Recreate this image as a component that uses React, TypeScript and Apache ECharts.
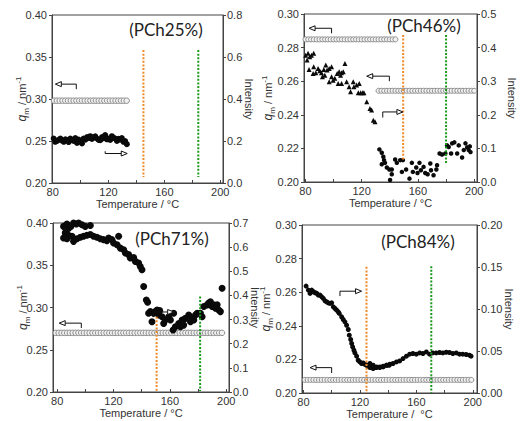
import React, { useEffect, useRef } from "react";
import * as echarts from "echarts";

// ---------- shared tick values ----------
const xTickValues = [80, 100, 120, 140, 160, 180, 200];
const xLabelValues = [80, 120, 160, 200];
const panelTitles = ["(PCh25%)", "(PCh46%)", "(PCh71%)", "(PCh84%)"];
const xTitles = ["Temperature / °C", "Temperature / °C", "Temperature / °C", "Temperature /  °C"];

// ---------- panel 1 (PCh25%) ----------
const p1RingT = [81, 83, 85, 87, 89, 91, 93, 95, 97, 99, 101, 103, 105, 107, 109, 111, 113, 115, 117, 119, 121, 123, 125, 127, 129, 131, 133];
const p1RingQ = 0.298;
const p1Intensity = [
  [80.7, 0.212], [81.8, 0.196], [83.1, 0.2], [84.3, 0.206], [85.5, 0.212], [86.7, 0.202], [87.9, 0.196], [89.1, 0.208],
  [90.3, 0.204], [91.4, 0.195], [92.6, 0.212], [93.8, 0.205], [95.0, 0.2], [96.2, 0.214], [97.4, 0.191], [98.6, 0.207],
  [99.8, 0.198], [101.0, 0.188], [102.1, 0.212], [103.4, 0.206], [104.6, 0.219], [105.8, 0.214], [106.9, 0.223], [108.1, 0.21],
  [109.3, 0.217], [110.5, 0.222], [111.7, 0.212], [112.9, 0.205], [114.1, 0.204], [115.3, 0.219], [116.5, 0.213], [117.6, 0.228],
  [118.8, 0.208], [120.0, 0.212], [121.2, 0.205], [122.4, 0.223], [123.6, 0.215], [124.8, 0.212], [126.0, 0.2], [127.2, 0.21],
  [128.4, 0.207], [129.5, 0.214], [130.7, 0.196], [131.9, 0.2], [133.1, 0.185],
];
const p1VLines = [[145, 0.3583, 0.2072], [184.3, 0.3583, 0.2072]];
const p1Arrows = [[96.9, 81.9, 0.3177, 0.3117], [117.6, 133.4, 0.2351, 0.2378]];

// ---------- panel 2 (PCh46%) ----------
const p2RingAT = [80, 82, 84, 86, 88, 90, 92, 94, 96, 98, 100, 102, 104, 106, 108, 110, 112, 114, 116, 118, 120, 122, 124, 126, 128, 130, 132, 134, 136, 138, 140, 142, 144];
const p2RingAQ = 0.2849;
const p2RingBT = [132, 134, 136, 138, 140, 142, 144, 146, 148, 150, 152, 154, 156, 158, 160, 162, 164, 166, 168, 170, 172, 174, 176, 178, 180, 182, 184, 186, 188, 190, 192, 194, 196, 198, 200];
const p2RingBQ = 0.2543;
const p2Triangles = [
  [80.2, 0.2755], [81.9, 0.2766], [84.3, 0.2755], [85.9, 0.2766], [83.1, 0.2745], [81.2, 0.2726], [82.6, 0.267], [85.9, 0.2686],
  [85.5, 0.2646], [87.4, 0.265], [89.0, 0.2676], [90.2, 0.2662], [91.4, 0.265], [93.1, 0.267], [94.5, 0.2696], [95.4, 0.2666],
  [96.9, 0.2676], [98.6, 0.2686], [92.1, 0.2626], [93.8, 0.2636], [96.9, 0.2596], [98.6, 0.2626], [99.7, 0.2606], [100.9, 0.2617],
  [102.6, 0.2646], [104.0, 0.2656], [105.0, 0.2636], [105.7, 0.265], [106.9, 0.2656], [108.1, 0.2706], [103.3, 0.2587], [105.7, 0.2587],
  [109.3, 0.2596], [111.1, 0.2567], [112.1, 0.2537], [114.0, 0.2596], [114.5, 0.2567], [116.4, 0.2577], [118.3, 0.2587], [117.6, 0.2531],
  [119.3, 0.2531], [120.7, 0.2531], [121.6, 0.2531], [123.6, 0.2477], [125.9, 0.2438], [127.1, 0.2428], [128.3, 0.2368], [129.5, 0.2358],
];
const p2Intensity = [
  [132.6, 0.097], [134.3, 0.087], [135.4, 0.075], [135.9, 0.065], [134.3, 0.053], [136.6, 0.057], [137.9, 0.043], [139.7, 0.037],
  [141.4, 0.037], [141.4, 0.023], [140.2, 0.006], [143.8, 0.067], [145.0, 0.057], [147.4, 0.065], [149.3, 0.065], [148.6, 0.03],
  [151.6, 0.037], [154.0, 0.01], [155.7, 0.057], [156.4, 0.03], [158.8, 0.043], [159.7, 0.027], [161.1, 0.057], [162.1, 0.035],
  [164.0, 0.045], [165.2, 0.027], [166.9, 0.023], [168.8, 0.055], [169.3, 0.035], [171.1, 0.02], [173.1, 0.037], [173.6, 0.05],
  [175.4, 0.085], [177.1, 0.082], [179.5, 0.085], [180.7, 0.109], [181.9, 0.104], [184.3, 0.115], [185.9, 0.118], [183.6, 0.085],
  [187.9, 0.085], [189.0, 0.109], [191.4, 0.073], [192.6, 0.095], [193.8, 0.115], [195.0, 0.103], [196.1, 0.095], [196.9, 0.106],
  [197.4, 0.089],
];
const p2VLines = [[149.5, 0.2875, 0.2125], [180, 0.2875, 0.211]];
const p2Arrows = [[98.6, 82.6, 0.2915, 0.2885], [139.7, 123.6, 0.263, 0.26], [135.0, 149.3, 0.2417, 0.2384]];

// ---------- panel 3 (PCh71%) ----------
const p3RingT = [79, 81, 83, 85, 87, 89, 91, 93, 95, 97, 99, 101, 103, 105, 107, 109, 111, 113, 115, 117, 119, 121, 123, 125, 127, 129, 131, 133, 135, 137, 139, 141, 143, 145, 147, 149, 151, 153, 155, 157, 159, 161, 163, 165, 167, 169, 171, 173, 175, 177, 179, 181, 183, 185, 187, 189, 191, 193, 195, 197];
const p3RingQ = 0.27;
const p3Intensity = [
  [84.5, 0.686], [86.9, 0.696], [88.0, 0.677], [89.7, 0.686], [91.6, 0.7], [93.5, 0.696], [95.2, 0.7], [97.6, 0.693],
  [99.9, 0.686], [103.5, 0.69], [85.7, 0.659], [88.0, 0.649], [84.5, 0.638], [86.9, 0.635], [90.5, 0.645], [91.6, 0.624],
  [94.0, 0.635], [96.4, 0.641], [98.7, 0.645], [101.1, 0.649], [103.5, 0.652], [105.8, 0.645], [108.2, 0.641], [110.6, 0.635],
  [112.9, 0.631], [115.3, 0.627], [116.5, 0.638], [118.9, 0.631], [120.0, 0.617], [122.5, 0.61], [123.6, 0.645], [124.8, 0.596],
  [127.2, 0.589], [128.4, 0.576], [130.7, 0.569], [131.9, 0.555], [134.3, 0.557], [135.5, 0.541], [137.8, 0.534], [139.0, 0.52],
  [140.2, 0.506], [141.4, 0.437], [143.3, 0.381], [144.2, 0.372], [144.9, 0.326], [146.1, 0.333], [147.3, 0.291], [148.5, 0.326],
  [149.7, 0.333], [150.9, 0.34], [152.1, 0.319], [152.8, 0.337], [154.5, 0.312], [155.6, 0.284], [156.8, 0.298], [159.2, 0.312],
  [160.4, 0.298], [162.3, 0.257], [162.7, 0.326], [163.9, 0.27], [166.3, 0.284], [167.5, 0.27], [168.7, 0.298], [169.8, 0.277],
  [171.0, 0.305], [173.4, 0.319], [174.6, 0.291], [175.8, 0.305], [177.0, 0.298], [178.2, 0.319], [179.4, 0.326], [181.7, 0.326],
  [182.9, 0.312], [184.1, 0.354], [186.5, 0.361], [187.6, 0.368], [188.8, 0.374], [190.0, 0.354], [191.2, 0.361], [192.4, 0.347],
  [193.6, 0.361], [194.7, 0.34], [195.9, 0.333], [197.1, 0.43],
];
const p3VLines = [[150.6, 0.2891, 0.2], [181.5, 0.313, 0.2012]];
const p3Arrows = [[97.1, 81.4, 0.2815, 0.2757], [148.1, 162.7, 0.2947, 0.2886]];

// ---------- panel 4 (PCh84%) ----------
const p4RingT = [81, 83, 85, 87, 89, 91, 93, 95, 97, 99, 101, 103, 105, 107, 109, 111, 113, 115, 117, 119, 121, 123, 125, 127, 129, 131, 133, 135, 137, 139, 141, 143, 145, 147, 149, 151, 153, 155, 157, 159, 161, 163, 165, 167, 169, 171, 173, 175, 177, 179, 181, 183, 185, 187, 189, 191, 193, 195, 197, 199];
const p4RingQ = 0.2078;
const p4Intensity = [
  [81.9, 0.1273], [83.5, 0.1225], [84.7, 0.1186], [85.9, 0.1225], [87.1, 0.1205], [88.3, 0.1193], [89.5, 0.1186], [90.6, 0.1165],
  [91.8, 0.1165], [93.0, 0.1145], [94.1, 0.1126], [95.3, 0.1097], [96.5, 0.1085], [97.6, 0.1073], [98.8, 0.1066], [100.0, 0.1073],
  [101.2, 0.1026], [102.4, 0.1006], [103.6, 0.0986], [104.7, 0.0966], [105.4, 0.0947], [107.1, 0.0906], [108.2, 0.0875], [109.4, 0.0847],
  [110.6, 0.0807], [111.8, 0.0756], [112.5, 0.0688], [113.5, 0.0637], [114.2, 0.0589], [114.9, 0.0549], [115.8, 0.0509], [116.5, 0.0477],
  [117.7, 0.0438], [118.8, 0.039], [120.0, 0.037], [121.2, 0.0351], [122.3, 0.0358], [123.5, 0.0342], [124.7, 0.033], [125.9, 0.0318],
  [127.1, 0.0303], [128.3, 0.031], [129.4, 0.0291], [130.6, 0.0303], [131.8, 0.0303], [134.1, 0.031], [136.5, 0.0318], [138.9, 0.033],
  [140.7, 0.033], [127.1, 0.0351], [129.4, 0.033], [131.8, 0.031], [134.1, 0.0303], [136.5, 0.031], [138.9, 0.033], [141.2, 0.0342],
  [143.5, 0.0351], [145.9, 0.037], [148.2, 0.0382], [150.6, 0.041], [153.0, 0.0438], [155.3, 0.0462], [157.6, 0.047], [160.0, 0.0462],
  [162.4, 0.0477], [164.7, 0.047], [167.1, 0.0489], [169.4, 0.0462], [171.7, 0.0477], [174.1, 0.0477], [176.5, 0.0482], [178.8, 0.0477],
  [181.2, 0.0485], [183.5, 0.0482], [185.9, 0.047], [188.3, 0.0477], [190.6, 0.0462], [192.9, 0.0462], [195.3, 0.0458], [197.6, 0.045],
  [198.8, 0.0438],
];
const p4VLines = [[124.7, 0.2751, 0.2], [170.6, 0.2755, 0.2]];
const p4Arrows = [[105.9, 121.2, 0.2606, 0.2577], [100.0, 84.7, 0.2151, 0.2119]];

// ---------- layout / style ----------
const FONT = '"Liberation Sans", Arial, sans-serif';
const TXT = "#333";
const AX = "#444";
const ORANGE = "#f08a24";
const GREEN = "#1c9a1c";

const grids = [
  { left: 52, top: 15, width: 171, height: 168 },
  { left: 304, top: 14, width: 173, height: 168 },
  { left: 53, top: 223, width: 176, height: 169 },
  { left: 302, top: 225, width: 175, height: 168 },
];
const xRanges = [[79.5, 202], [79, 202], [77, 202], [79, 203]];
const leftY = [
  { min: 0.2, max: 0.4, interval: 0.05, dec: 2 },
  { min: 0.2, max: 0.3, interval: 0.02, dec: 2 },
  { min: 0.2, max: 0.4, interval: 0.05, dec: 2 },
  { min: 0.2, max: 0.3, interval: 0.02, dec: 2 },
];
const rightY = [
  { min: 0, max: 0.8, interval: 0.2, dec: 1 },
  { min: 0, max: 0.5, interval: 0.1, dec: 1 },
  { min: 0, max: 0.7, interval: 0.1, dec: 1 },
  { min: 0, max: 0.2, interval: 0.05, dec: 2 },
];
const leftGap = [22, 28, 22, 28];
const rightGap = [20, 29, 20, 26];
const titlePos = [[166, 29], [424, 25], [172, 238], [418, 241]];

function xAxisFor(i: number) {
  return {
    type: "value",
    gridIndex: i,
    min: xRanges[i][0],
    max: xRanges[i][1],
    name: xTitles[i],
    nameLocation: "middle",
    nameGap: 15,
    nameMoveOverlap: false,
    nameTextStyle: { color: TXT, fontSize: 11, fontFamily: FONT },
    axisLine: { show: true, onZero: false, lineStyle: { color: AX, width: 1 } },
    axisTick: { show: true, inside: true, length: 3, customValues: xTickValues, lineStyle: { color: AX } },
    axisLabel: { customValues: xLabelValues, margin: 3, color: TXT, fontSize: 11, fontFamily: FONT },
    splitLine: { show: false },
  };
}

function yAxisFor(i: number, side: "left" | "right") {
  const r = side === "left" ? leftY[i] : rightY[i];
  const base: any = {
    type: "value",
    gridIndex: i,
    position: side,
    min: r.min,
    max: r.max,
    interval: r.interval,
    axisLine: { show: true, onZero: false, lineStyle: { color: AX, width: 1 } },
    axisTick: { show: true, inside: false, length: 3, lineStyle: { color: AX } },
    axisLabel: {
      margin: side === "left" ? 5 : 4,
      color: TXT,
      fontSize: 11,
      fontFamily: FONT,
      formatter: (v: number) => v.toFixed(r.dec),
    },
    splitLine: { show: false },
    nameLocation: "middle",
    nameMoveOverlap: false,
  };
  if (side === "left") {
    base.name = "{i|q}{s|m}{n| / nm}{p|-1}";
    base.nameGap = leftGap[i];
    base.nameRotate = 90;
    base.nameTextStyle = {
      color: TXT,
      fontFamily: FONT,
      fontSize: 11,
      rich: {
        i: { fontStyle: "italic", fontSize: 12, lineHeight: 16, fontFamily: FONT, color: TXT },
        s: { fontSize: 8, lineHeight: 9, verticalAlign: "bottom", fontFamily: FONT, color: TXT },
        n: { fontSize: 11, lineHeight: 16, fontFamily: FONT, color: TXT },
        p: { fontSize: 8, lineHeight: 9, verticalAlign: "top", fontFamily: FONT, color: TXT },
      },
    };
  } else {
    base.name = "Intensity";
    base.nameGap = rightGap[i];
    base.nameRotate = -90;
    base.nameTextStyle = { color: TXT, fontFamily: FONT, fontSize: 11 };
  }
  return base;
}

function ringSeries(i: number, temps: number[], q: number, size: number) {
  return {
    type: "scatter",
    xAxisIndex: i,
    yAxisIndex: 2 * i,
    symbol: "circle",
    symbolSize: size,
    z: 2,
    silent: true,
    itemStyle: { color: "#f2f2f2", borderColor: "#8c8c8c", borderWidth: 1, opacity: 1 },
    data: temps.map((t) => [t, q]),
  };
}

function dotSeries(i: number, data: number[][], size: number, onRight: boolean, symbol = "circle") {
  return {
    type: "scatter",
    xAxisIndex: i,
    yAxisIndex: onRight ? 2 * i + 1 : 2 * i,
    symbol,
    symbolSize: size,
    z: 3,
    silent: true,
    itemStyle: { color: "#0a0a0a", opacity: 1 },
    data,
  };
}

function vLineSeries(i: number, lines: number[][]) {
  const colors = [ORANGE, GREEN];
  return lines.map((l, k) => ({
    type: "line",
    xAxisIndex: i,
    yAxisIndex: 2 * i,
    symbol: "none",
    z: 4,
    silent: true,
    lineStyle: { color: colors[k], width: 2, type: [2, 1.6] },
    data: [[l[0], l[1]], [l[0], l[2]]],
  }));
}

function arrowSeries(i: number, arrows: number[][]) {
  return {
    type: "custom",
    xAxisIndex: i,
    yAxisIndex: 2 * i,
    z: 5,
    silent: true,
    clip: false,
    encode: { x: [0, 1], y: [2, 3] },
    data: arrows,
    renderItem: (_p: any, api: any) => {
      const tail = api.coord([api.value(0), api.value(2)]);
      const head = api.coord([api.value(1), api.value(2)]);
      const tick = api.coord([api.value(0), api.value(3)]);
      const d = head[0] > tail[0] ? 1 : -1;
      const L = 6;
      const W = 2.5;
      const base = head[0] - d * L;
      return {
        type: "group",
        children: [
          {
            type: "polyline",
            shape: { points: [[tail[0], tick[1]], [tail[0], tail[1]], [base, head[1]]] },
            style: { stroke: "#111", lineWidth: 1, fill: null },
          },
          {
            type: "polygon",
            shape: { points: [[head[0], head[1]], [base, head[1] - W], [base, head[1] + W]] },
            style: { stroke: "#111", lineWidth: 1, fill: "#fff" },
          },
        ],
      };
    },
  };
}

export default function App() {
  const ref = useRef<HTMLDivElement>(null);
  useEffect(() => {
    if (!ref.current) return;
    const chart = echarts.init(ref.current, null, { renderer: "svg" });
    const series: any[] = [
      ringSeries(0, p1RingT, p1RingQ, 5.5),
      dotSeries(0, p1Intensity, 6, true),
      ...vLineSeries(0, p1VLines),
      arrowSeries(0, p1Arrows),

      ringSeries(1, p2RingAT, p2RingAQ, 5),
      ringSeries(1, p2RingBT, p2RingBQ, 5),
      dotSeries(1, p2Triangles, 5, false, "triangle"),
      dotSeries(1, p2Intensity, 4.5, true),
      ...vLineSeries(1, p2VLines),
      arrowSeries(1, p2Arrows),

      ringSeries(2, p3RingT, p3RingQ, 5.5),
      dotSeries(2, p3Intensity, 7, true),
      ...vLineSeries(2, p3VLines),
      arrowSeries(2, p3Arrows),

      ringSeries(3, p4RingT, p4RingQ, 5),
      dotSeries(3, p4Intensity, 5, true),
      ...vLineSeries(3, p4VLines),
      arrowSeries(3, p4Arrows),
    ];
    chart.setOption({
      animation: false,
      backgroundColor: "#fff",
      grid: grids.map((g) => ({ ...g, show: true, borderColor: AX, borderWidth: 1, backgroundColor: "transparent" })),
      xAxis: [0, 1, 2, 3].map((i) => xAxisFor(i)),
      yAxis: [0, 1, 2, 3].flatMap((i) => [yAxisFor(i, "left"), yAxisFor(i, "right")]),
      series,
      graphic: panelTitles.map((t, i) => ({
        type: "text",
        x: titlePos[i][0],
        y: titlePos[i][1],
        z: 10,
        style: {
          text: t,
          fontFamily: "Lato, 'Open Sans', sans-serif",
          fontSize: 17,
          fill: "#222",
          textAlign: "center",
          textVerticalAlign: "middle",
        },
      })),
    });
    return () => chart.dispose();
  }, []);
  return (
    <div
      ref={ref}
      style={{ position: "fixed", left: 0, top: 0, width: 521, height: 421, background: "#fff" }}
    />
  );
}
